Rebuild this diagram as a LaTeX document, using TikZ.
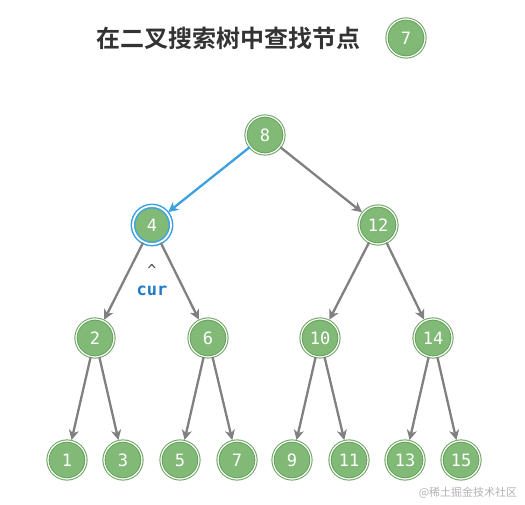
\documentclass[tikz,border=0pt]{standalone}
\usepackage{fontspec}
\usepackage{tikz}
\usetikzlibrary{arrows.meta}
\setmonofont{DejaVu Sans Mono}
\newfontfamily\cjkfont{Noto Sans CJK SC}
\newfontfamily\cjkbold{Noto Sans CJK SC Bold}
\definecolor{nodegreen}{RGB}{128, 186, 118}
\definecolor{nodeedge}{RGB}{104, 164, 94}
\definecolor{curblue}{RGB}{60, 160, 225}
\definecolor{curtext}{RGB}{34, 122, 196}
\definecolor{linegray}{RGB}{128, 128, 128}
\definecolor{titlegray}{RGB}{51, 51, 51}

\begin{document}
\begin{tikzpicture}[x=1pt, y=-1pt,
  treenode/.style={circle, minimum size=38pt, inner sep=0pt, fill=nodegreen, draw=nodeedge,
    double=white, double distance=1.2pt, line width=1pt, text=white, font=\ttfamily\fontsize{17}{17}\selectfont},
  curnode/.style={treenode, draw=curblue, double distance=1.8pt, line width=1.5pt},
  link/.style={draw=linegray, line width=2.3pt, -{Stealth[length=10pt, width=10pt, inset=3pt]}, shorten >=1pt},
  curlink/.style={link, draw=curblue}
]
    \useasboundingbox (0,0) rectangle (525,505);
    
    % title
    \node (title) at (228, 38) {\cjkbold\fontsize{24}{24}\selectfont\color{titlegray}在二叉搜索树中查找节点};
    \node[treenode] (target) at (406, 38) {7};
    
    % tree
    \node[treenode] (n8) at (265, 135) {8};
    \node[curnode] (n4) at (152, 225) {4};
    \node[treenode] (n12) at (378, 225) {12};
    
    \node[treenode] (n2) at (95, 338) {2};
    \node[treenode] (n6) at (208, 338) {6};
    \node[treenode] (n10) at (320, 338) {10};
    \node[treenode] (n14) at (433, 338) {14};
    
    \node[treenode] (n1) at (67, 460) {1};
    \node[treenode] (n3) at (123, 460) {3};
    \node[treenode] (n5) at (180, 460) {5};
    \node[treenode] (n7) at (237, 460) {7};
    \node[treenode] (n9) at (292, 460) {9};
    \node[treenode] (n11) at (349, 460) {11};
    \node[treenode] (n13) at (405, 460) {13};
    \node[treenode] (n15) at (461, 460) {15};
    
    % pointer
    \node[text=black!75, font=\ttfamily\fontsize{15}{15}\selectfont] (caret) at (152, 270) {\textasciicircum};
    \node[text=curtext, font=\ttfamily\bfseries\fontsize{17}{17}\selectfont] (cur) at (152, 291) {cur};
    
    \draw[curlink] (n8) -- (n4);
    \draw[link] (n8) -- (n12);
    \draw[link] (n4) -- (n2);
    \draw[link] (n4) -- (n6);
    \draw[link] (n12) -- (n10);
    \draw[link] (n12) -- (n14);
    \draw[link] (n2) -- (n1);
    \draw[link] (n2) -- (n3);
    \draw[link] (n6) -- (n5);
    \draw[link] (n6) -- (n7);
    \draw[link] (n10) -- (n9);
    \draw[link] (n10) -- (n11);
    \draw[link] (n14) -- (n13);
    \draw[link] (n14) -- (n15);
    
    % watermark
    \node[text=black!30, font=\cjkfont\fontsize{11}{11}\selectfont] (mark) at (468, 493) {@稀土掘金技术社区};
\end{tikzpicture}
\end{document}
